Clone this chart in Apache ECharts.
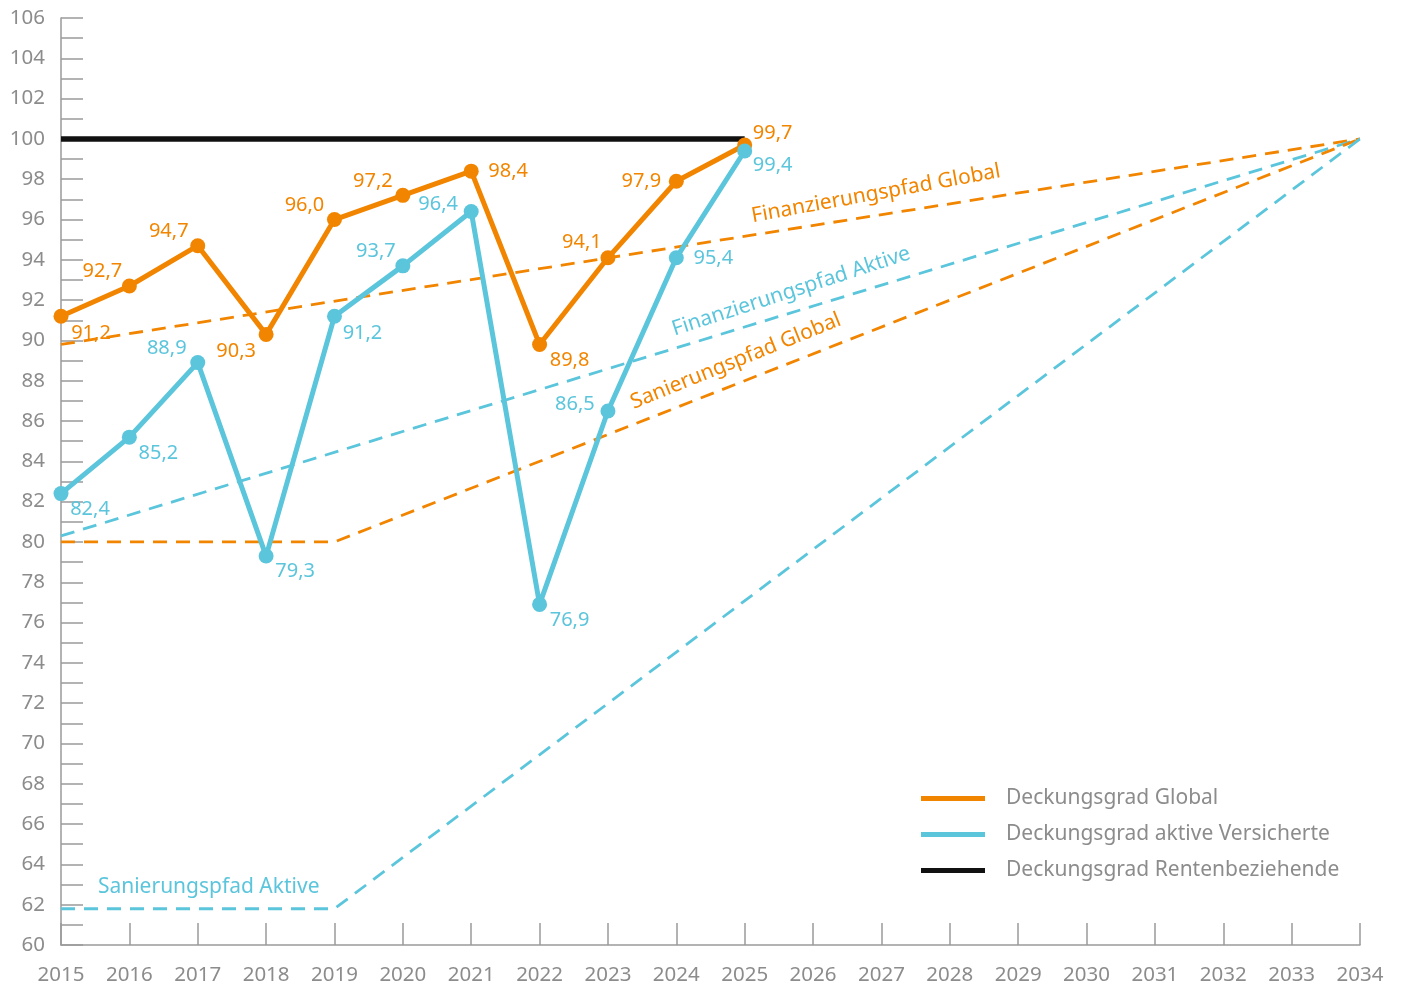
<!DOCTYPE html>
<html>
<head>
<meta charset="utf-8">
<script src="https://cdn.jsdelivr.net/npm/echarts@6/dist/echarts.min.js"></script>
<style>
html,body{margin:0;padding:0;background:#fff;}
#chart{width:1403px;height:986px;}
</style>
</head>
<body>
<div id="chart"></div>
<script>
// ---- data ----
const years = [2015, 2016, 2017, 2018, 2019, 2020, 2021, 2022, 2023, 2024, 2025];
const globalValues = [91.2, 92.7, 94.7, 90.3, 96.0, 97.2, 98.4, 89.8, 94.1, 97.9, 99.7];
// 2024 point is drawn at ~94.1 in the reference, labelled 95,4
const aktiveValues = [82.4, 85.2, 88.9, 79.3, 91.2, 93.7, 96.4, 76.9, 86.5, 94.1, 99.4];
const aktiveLabels = ['82,4', '85,2', '88,9', '79,3', '91,2', '93,7', '96,4', '76,9', '86,5', '95,4', '99,4'];
const rentenYears = [2015, 2025];
const rentenValues = [100, 100];
const finGlobalYears = [2015, 2034];
const finGlobalValues = [89.8, 100];
const finAktiveYears = [2015, 2034];
const finAktiveValues = [80.3, 100];
const sanGlobalYears = [2015, 2019, 2034];
const sanGlobalValues = [80, 80, 100];
const sanAktiveYears = [2015, 2019, 2034];
const sanAktiveValues = [61.8, 61.8, 100];
const xMin = 2015, xMax = 2034;
const yMin = 60, yMax = 106;

// ---- styles ----
const ORANGE = '#F28500';
const CYAN = '#5BC5DC';
const BLACK = '#111111';
const GREY = '#8c8c8c';
const AXIS = '#9a9a9a';
const FONT = '"Noto Sans", "Open Sans", sans-serif';

const globalLabelOffsets = [[30,17],[-27,-15],[-29,-14],[-30,17],[-30,-14],[-30,-14],[37,0],[30,16],[-26,-16],[-35,0],[28,-12]];
const aktiveLabelOffsets = [[29,16],[29,16],[-31,-14],[29,15],[28,17],[-27,-15],[-33,-7],[30,16],[-33,-7],[37,0],[28,14]];

const pairs = (xs, ys) => xs.map((x, i) => [x, ys[i]]);
const fmt = v => v.toFixed(1).replace('.', ',');

function pointSeries(name, vals, color, offsets, labels) {
  return {
    name, type: 'line', z: 5,
    data: vals.map((v, i) => ({
      value: [years[i], v],
      label: { offset: offsets[i], formatter: labels ? labels[i] : fmt(v) }
    })),
    symbol: 'circle', symbolSize: 15,
    lineStyle: { color, width: 5 },
    itemStyle: { color },
    label: {
      show: true, position: 'inside', color, fontSize: 20, fontFamily: FONT,
      align: 'center', verticalAlign: 'middle'
    },
    animation: false
  };
}
function dashSeries(name, xs, ys, color) {
  return {
    name, type: 'line', z: 2,
    data: pairs(xs, ys), symbol: 'none',
    lineStyle: { color, width: 2.8, type: [14, 9] },
    itemStyle: { color },
    silent: true, animation: false
  };
}

const chart = echarts.init(document.getElementById('chart'));
chart.setOption({
  animation: false,
  backgroundColor: '#fff',
  grid: { left: 61, right: 43, top: 18, bottom: 39, containLabel: false },
  xAxis: {
    type: 'value', min: xMin, max: xMax, interval: 1,
    axisLine: { show: true, lineStyle: { color: AXIS, width: 1.5 } },
    axisTick: { show: true, inside: true, length: 22, lineStyle: { color: AXIS, width: 1.5 } },
    axisLabel: { color: GREY, fontSize: 20.5, fontFamily: FONT, margin: 20, formatter: v => String(v) },
    splitLine: { show: false }
  },
  yAxis: {
    type: 'value', min: yMin, max: yMax, interval: 2,
    axisLine: { show: true, lineStyle: { color: AXIS, width: 1.5 } },
    axisTick: { show: true, inside: true, length: 22, lineStyle: { color: AXIS, width: 1.5 } },
    minorTick: { show: true, splitNumber: 2, length: 22, lineStyle: { color: AXIS, width: 1.5 } },
    axisLabel: { color: GREY, fontSize: 20.5, fontFamily: FONT, margin: 16 },
    splitLine: { show: false }
  },
  legend: {
    orient: 'vertical', left: 921, top: 786, padding: 0,
    itemWidth: 64, itemHeight: 5, itemGap: 11,
    icon: 'rect',
    textStyle: { color: GREY, fontSize: 21, fontFamily: FONT, lineHeight: 25, padding: [0, 0, 0, 16] },
    data: ['Deckungsgrad Global', 'Deckungsgrad aktive Versicherte', 'Deckungsgrad Rentenbeziehende']
  },
  series: [
    dashSeries('Finanzierungspfad Global', finGlobalYears, finGlobalValues, ORANGE),
    dashSeries('Finanzierungspfad Aktive', finAktiveYears, finAktiveValues, CYAN),
    dashSeries('Sanierungspfad Global', sanGlobalYears, sanGlobalValues, ORANGE),
    dashSeries('Sanierungspfad Aktive', sanAktiveYears, sanAktiveValues, CYAN),
    {
      name: 'Deckungsgrad Rentenbeziehende', type: 'line', z: 3,
      data: pairs(rentenYears, rentenValues), symbol: 'none',
      lineStyle: { color: BLACK, width: 5.5 }, itemStyle: { color: BLACK }, animation: false
    },
    pointSeries('Deckungsgrad Global', globalValues, ORANGE, globalLabelOffsets),
    pointSeries('Deckungsgrad aktive Versicherte', aktiveValues, CYAN, aktiveLabelOffsets, aktiveLabels)
  ]
});

// path annotations anchored to data coordinates
const annotations = [
  { text: 'Finanzierungspfad Global', at: [2026.92, 97.28], angle: 10.3, color: ORANGE, align: 'center' },
  { text: 'Finanzierungspfad Aktive', at: [2025.68, 92.43], angle: 18, color: CYAN, align: 'center' },
  { text: 'Sanierungspfad Global', at: [2024.87, 88.97], angle: 22, color: ORANGE, align: 'center' },
  { text: 'Sanierungspfad Aktive', at: [2015.54, 62.87], angle: 0, color: CYAN, align: 'left' }
];
chart.setOption({
  graphic: annotations.map(a => {
    const p = chart.convertToPixel({ gridIndex: 0 }, a.at);
    return {
      type: 'text', x: p[0], y: p[1], rotation: a.angle * Math.PI / 180, z: 10,
      style: { text: a.text, fill: a.color, font: '21px ' + FONT, align: a.align, verticalAlign: 'middle' }
    };
  })
});
</script>
</body>
</html>
